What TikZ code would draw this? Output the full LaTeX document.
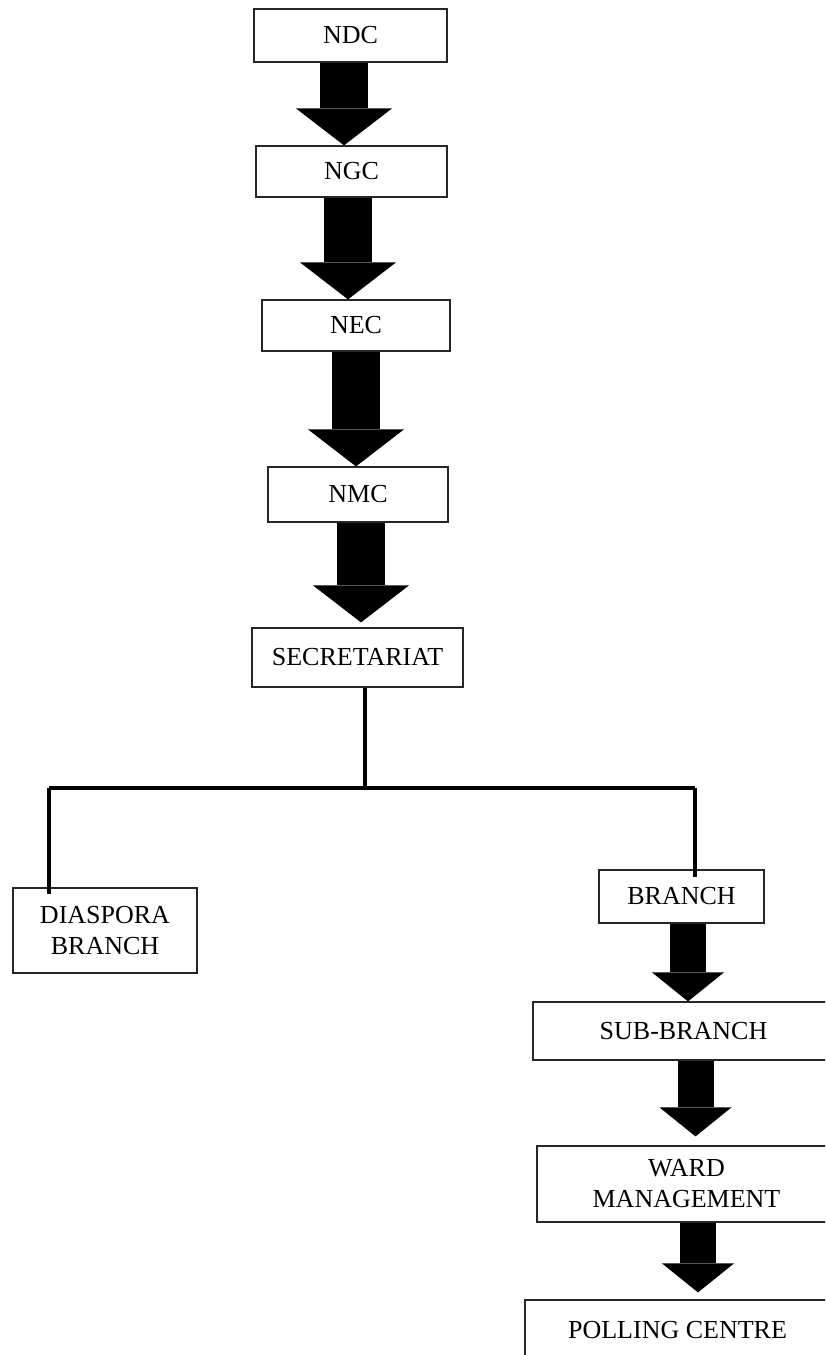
\documentclass[tikz,border=0pt]{standalone}
\usepackage{fontspec}
\setmainfont{Liberation Serif}
\usetikzlibrary{arrows.meta,positioning}
\tikzset{
  orgbox/.style={draw=black!85, line width=0.6pt, align=center, inner sep=0pt, font=\fontsize{13}{15.5}\selectfont},
  bigblock/.style={line width=24pt, -{Triangle[length=18.5pt,width=48pt,line width=0pt 0]}},
  smallblock/.style={line width=18pt, -{Triangle[length=14.5pt,width=36pt,line width=0pt 0]}},
  busline/.style={line width=1.6pt}
}

\begin{document}
\begin{tikzpicture}[x=0.5pt,y=-0.5pt]
\useasboundingbox (0,0) rectangle (825,1355);
\clip (0,0) rectangle (825,1355);
% national level
\node[orgbox, minimum width=96.5pt, minimum height=26.5pt] (ndc) at (350.5,35.5) {NDC};
\node[orgbox, minimum width=95.5pt, minimum height=25.5pt] (ngc) at (351.5,171.5) {NGC};
\node[orgbox, minimum width=94pt, minimum height=25.5pt] (nec) at (356,325.5) {NEC};
\node[orgbox, minimum width=90pt, minimum height=27.5pt] (nmc) at (358,494.5) {NMC};
\node[orgbox, minimum width=105.5pt, minimum height=29.5pt] (secretariat) at (357.5,657.5) {SECRETARIAT};
% branches
\node[orgbox, minimum width=92pt, minimum height=42.5pt] (diaspora) at (105,930.5) {DIASPORA\\BRANCH};
\node[orgbox, minimum width=82.5pt, minimum height=26.5pt] (branch) at (681.5,896.5) {BRANCH};
\node[orgbox, minimum width=150.5pt, minimum height=29pt] (subBranch) at (683.5,1031) {SUB-BRANCH};
\node[orgbox, minimum width=149.5pt, minimum height=38pt] (ward) at (686.5,1184) {WARD\\MANAGEMENT};
\node[orgbox, minimum width=152.5pt, minimum height=30pt] (polling) at (677.5,1330) {POLLING CENTRE};

\foreach \a/\b/\dx/\gap in {ndc/ngc/-3.25/0, ngc/nec/-1.75/0, nec/nmc/0/0, nmc/secretariat/1.5/2.5} {
  \draw[bigblock, shorten >=\gap pt] ([xshift=\dx pt]\a.south) -- ([xshift=\dx pt]\a.south |- \b.north);
}
\foreach \a/\b/\dx/\gap in {branch/subBranch/3.25/0, subBranch/ward/6/4.5, ward/polling/5.75/3.5} {
  \draw[smallblock, shorten >=\gap pt] ([xshift=\dx pt]\a.south) -- ([xshift=\dx pt]\a.south |- \b.north);
}

\coordinate (busL) at (49,788);
\coordinate (busR) at (695,788);
\draw[busline] ([xshift=3.75pt]secretariat.south) -- ([xshift=3.75pt]secretariat.south |- busL);
\draw[busline] (busL) -- (busR);
\draw[busline] (busL) -- ([yshift=-3.5pt]busL |- diaspora.north);
\draw[busline] (busR) -- ([yshift=-4pt]busR |- branch.north);
\end{tikzpicture}
\end{document}
